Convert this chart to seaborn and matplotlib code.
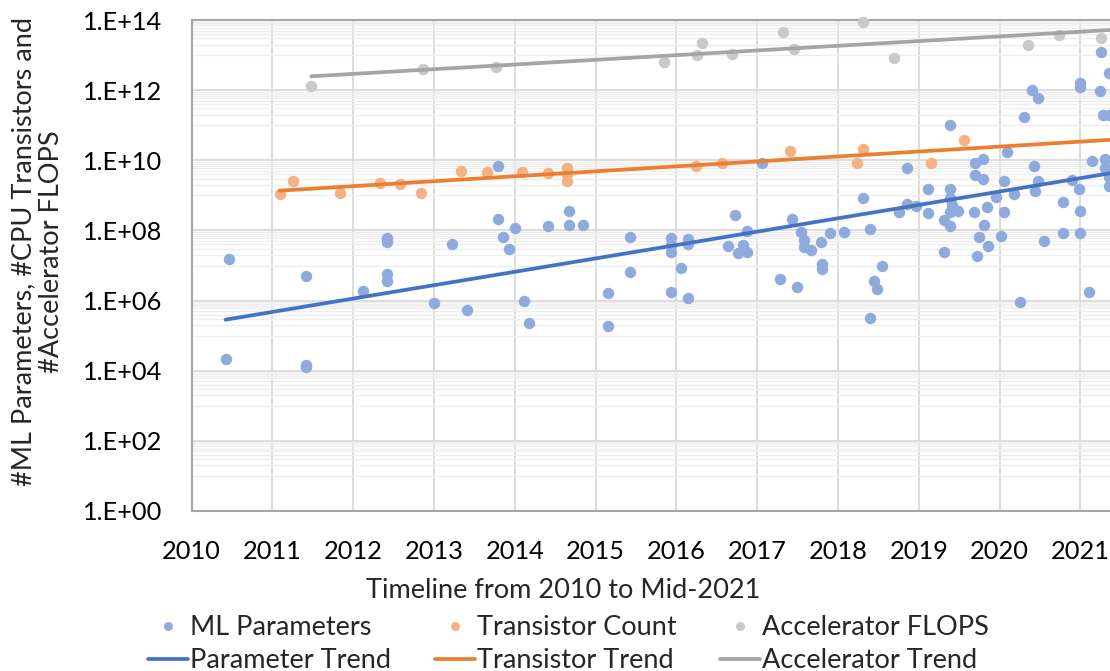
import numpy as np
import pandas as pd
import matplotlib
matplotlib.use("Agg")
import matplotlib.pyplot as plt
import seaborn as sns
from matplotlib.ticker import FixedLocator, FuncFormatter, NullFormatter
from matplotlib.lines import Line2D

# ---------------- data ----------------
ml_years = [2010.42, 2010.46, 2011.42, 2011.42, 2011.42, 2012.12, 2012.42, 2012.42, 2012.42, 2012.42,
            2013.00, 2013.22, 2013.41, 2013.79, 2013.79, 2013.86, 2013.93, 2014.00, 2014.11, 2014.17,
            2014.41, 2014.67, 2014.67, 2014.85, 2015.15, 2015.15, 2015.43, 2015.43, 2015.93, 2015.93,
            2015.93, 2015.93, 2016.06, 2016.14, 2016.14, 2016.14, 2016.64, 2016.72, 2016.76, 2016.83,
            2016.87, 2016.87, 2017.06, 2017.28, 2017.43, 2017.49, 2017.54, 2017.58, 2017.58, 2017.66,
            2017.79, 2017.80, 2017.80, 2017.90, 2018.08, 2018.31, 2018.40, 2018.40, 2018.45, 2018.48,
            2018.55, 2018.76, 2018.86, 2018.86, 2018.97, 2019.11, 2019.11, 2019.31, 2019.31, 2019.39,
            2019.39, 2019.39, 2019.41, 2019.39, 2019.48, 2019.39, 2019.70, 2019.79, 2019.70, 2019.79,
            2019.68, 2019.84, 2019.81, 2019.74, 2019.86, 2019.72, 2019.96, 2020.02, 2020.05, 2020.05,
            2020.09, 2020.25, 2020.30, 2020.40, 2020.47, 2020.43, 2020.47, 2020.44, 2020.55, 2020.79,
            2020.79, 2020.89, 2020.98, 2020.99, 2020.99, 2020.99, 2020.99, 2021.11, 2021.14, 2021.25,
            2021.24, 2021.28, 2021.36, 2021.36, 2021.31, 2021.31, 2021.36, 2020.18, 2021.36]
ml_params = [2.2e4, 1.5e7, 5.0e6, 1.5e4, 1.3e4, 1.9e6, 6.2e7, 4.8e7, 5.8e6, 3.5e6,
             8.3e5, 4.2e7, 5.4e5, 7.1e9, 2.1e8, 6.6e7, 3.0e7, 1.2e8, 1.0e6, 2.3e5,
             1.3e8, 1.4e8, 3.7e8, 1.4e8, 1.6e6, 1.9e5, 6.3e7, 6.6e6, 5.9e7, 3.8e7,
             2.5e7, 1.7e6, 8.3e6, 5.6e7, 4.1e7, 1.2e6, 3.5e7, 2.8e8, 2.3e7, 3.8e7,
             9.5e7, 2.5e7, 8.1e9, 4.2e6, 2.1e8, 2.4e6, 8.9e7, 5.4e7, 3.3e7, 2.8e7,
             4.6e7, 1.1e7, 7.9e6, 8.7e7, 9.1e7, 8.3e8, 1.1e8, 3.2e5, 3.5e6, 2.2e6,
             9.8e6, 3.3e8, 5.9e9, 5.6e8, 5.1e8, 1.5e9, 3.2e8, 2.0e8, 2.5e7, 1.0e11,
             1.5e9, 8.3e8, 5.4e8, 3.4e8, 3.5e8, 1.3e8, 8.1e9, 1.1e10, 3.9e9, 3.0e9,
             3.4e8, 4.8e8, 1.4e8, 6.6e7, 3.6e7, 1.9e7, 9.1e8, 6.9e7, 2.6e9, 3.4e8,
             1.7e10, 8.9e5, 1.7e11, 1.0e12, 5.9e11, 6.9e9, 2.5e9, 1.3e9, 5.1e7, 6.3e8,
             8.7e7, 2.8e9, 1.5e9, 3.6e8, 8.7e7, 1.6e12, 1.2e12, 1.7e6, 9.8e9, 1.2e13,
             9.5e11, 2.0e11, 2.0e11, 3.0e12, 1.1e10, 5.9e9, 1.8e9, 1.1e9, 3.4e9]

tr_years = [2011.09, 2011.25, 2011.84, 2012.33, 2012.58, 2012.84, 2013.33, 2013.66, 2014.09, 2014.41,
            2014.65, 2014.65, 2014.65, 2016.24, 2016.57, 2017.40, 2018.23, 2018.31, 2019.15, 2019.56]
tr_count = [1.1e9, 2.6e9, 1.2e9, 2.3e9, 2.1e9, 1.2e9, 4.9e9, 4.5e9, 4.5e9, 4.3e9,
            5.9e9, 4.0e9, 2.6e9, 7.1e9, 8.1e9, 1.9e10, 8.1e9, 2.1e10, 8.1e9, 3.8e10]

acc_years = [2011.48, 2012.87, 2013.77, 2015.85, 2016.25, 2016.32, 2016.69, 2017.32, 2017.46,
             2018.31, 2018.69, 2020.35, 2020.74, 2021.25]
acc_flops = [1.35e12, 3.9e12, 4.7e12, 6.2e12, 1.0e13, 2.2e13, 1.07e13, 4.5e13, 1.5e13,
             8.9e13, 8.1e12, 1.95e13, 3.7e13, 3.0e13]

# trend lines (end points)
param_trend_years = [2010.42, 2021.50]
param_trend_vals = [2.85e5, 4.8e9]
trans_trend_years = [2011.09, 2021.50]
trans_trend_vals = [1.36e9, 4.0e10]
acc_trend_years = [2011.48, 2021.50]
acc_trend_vals = [2.48e12, 5.4e13]

year_ticks = list(range(2010, 2022))
y_major = [10.0 ** e for e in range(0, 15, 2)]

# ---------------- style ----------------
sns.set_style("white")
plt.rcParams['font.family'] = ['Lato', 'DejaVu Sans']
FS_TICK = 18.3
FS = 19.5

C_BLUE_PT, C_ORANGE_PT, C_GRAY_PT = "#8faadc", "#f4b183", "#c9c9c9"
C_BLUE_LN, C_ORANGE_LN, C_GRAY_LN = "#4472c4", "#ed7d31", "#a5a5a5"

W, H = 1110, 671
fig = plt.figure(figsize=(W / 100, H / 100), dpi=100)
x0, ytop, ybot = 191.6, 20, 511
ax = fig.add_axes([x0 / W, 1 - ybot / H, 1 - x0 / W, (ybot - ytop) / H])

ax.set_yscale("log")
ax.set_ylim(1, 1e14)
ax.set_xlim(2010, 2010 + (W - x0) / 80.8)

# scatter series
PT = 68
sns.scatterplot(x=ml_years, y=ml_params, color=C_BLUE_PT, s=PT, linewidth=0, ax=ax,
                zorder=3, clip_on=False)
sns.scatterplot(x=tr_years, y=tr_count, color=C_ORANGE_PT, s=PT, linewidth=0, ax=ax,
                zorder=3, clip_on=False)
sns.scatterplot(x=acc_years, y=acc_flops, color=C_GRAY_PT, s=PT, linewidth=0, ax=ax,
                zorder=3, clip_on=False)

# trend lines
sns.lineplot(x=param_trend_years, y=param_trend_vals, color=C_BLUE_LN, lw=2.7, ax=ax, zorder=4)
sns.lineplot(x=trans_trend_years, y=trans_trend_vals, color=C_ORANGE_LN, lw=2.7, ax=ax, zorder=4)
sns.lineplot(x=acc_trend_years, y=acc_trend_vals, color=C_GRAY_LN, lw=2.7, ax=ax, zorder=4)

# ticks / grid
ax.xaxis.set_major_locator(FixedLocator(year_ticks))
ax.xaxis.set_major_formatter(FuncFormatter(lambda v, p: f"{int(round(v))}"))
ax.yaxis.set_major_locator(FixedLocator(y_major))
minor = [k * 10.0 ** (2 * m + 1) for m in range(7) for k in range(1, 10)]
ax.yaxis.set_minor_locator(FixedLocator(minor))
ax.yaxis.set_minor_formatter(NullFormatter())
ax.yaxis.set_major_formatter(FuncFormatter(lambda v, p: f"1.E+{int(round(np.log10(v))):02d}"))

ax.grid(which="minor", axis="y", color="#eeeeee", lw=1.0, zorder=0)
ax.grid(which="major", axis="both", color="#d9d9d9", lw=1.3, zorder=1)
ax.set_axisbelow(True)
ax.tick_params(axis="both", which="both", length=0, labelsize=FS_TICK, labelcolor="#000000")
ax.tick_params(axis="y", pad=21)
ax.tick_params(axis="x", pad=21)

for side in ["left", "top", "bottom"]:
    ax.spines[side].set_color("#a6a6a6")
    ax.spines[side].set_linewidth(1.5)
ax.spines["right"].set_visible(False)
ax.set_xlabel("")
ax.set_ylabel("")

# axis titles
fig.text(563 / W, 1 - 591 / H, "Timeline from 2010 to Mid-2021", ha="center", va="center",
         fontsize=FS)
fig.text(38 / W, 1 - 252 / H, "#ML Parameters, #CPU Transistors and\n#Accelerator FLOPS",
         rotation=90, ha="center", va="center", multialignment="center", fontsize=FS,
         linespacing=1.15)

# legend: three columns, each holding the scatter entry and its trend
cols = [
    (148, C_BLUE_PT, C_BLUE_LN, "ML Parameters", "Parameter Trend"),
    (435, C_ORANGE_PT, C_ORANGE_LN, "Transistor Count", "Transistor Trend"),
    (720, C_GRAY_PT, C_GRAY_LN, "Accelerator FLOPS", "Accelerator Trend"),
]
for xpx, cp, cl, lab1, lab2 in cols:
    h1 = Line2D([], [], marker="o", ls="", color=cp, markersize=6.5, markeredgewidth=0)
    h2 = Line2D([], [], color=cl, lw=2.7)
    fig.legend([h1, h2], [lab1, lab2], loc="upper left",
               bbox_to_anchor=(xpx / W, 1 - 615 / H), frameon=False, fontsize=FS,
               borderpad=0, borderaxespad=0, handlelength=40 / (FS * 100 / 72),
               handletextpad=0.08, labelspacing=0.3)

fig.savefig("out.png", dpi=100)
